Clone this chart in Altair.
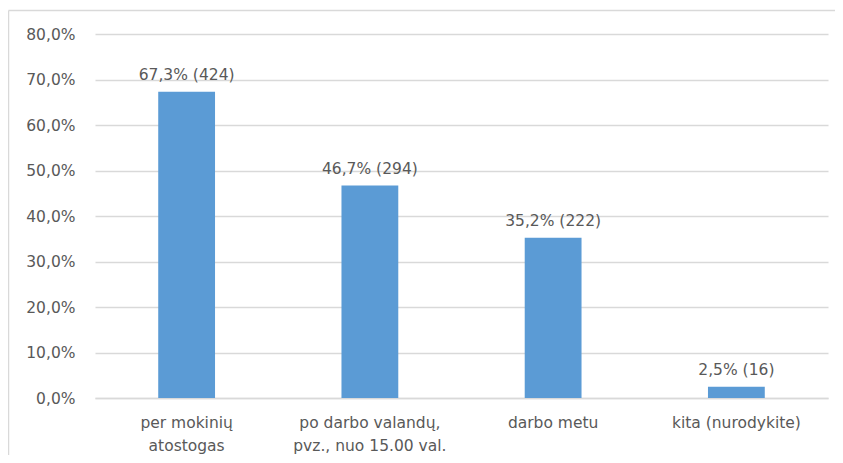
import altair as alt
import pandas as pd

categories = ["per mokinių\natostogas", "po darbo valandų,\npvz., nuo 15.00 val.", "darbo metu", "kita (nurodykite)"]
percents = [67.3, 46.7, 35.2, 2.5]
counts = [424, 294, 222, 16]
y_ticks = [0, 10, 20, 30, 40, 50, 60, 70, 80]

labels = [f"{p:.1f}".replace(".", ",") + f"% ({c})" for p, c in zip(percents, counts)]
df = pd.DataFrame({"cat": categories, "pct": percents, "label": labels})

FONT = "DejaVu Sans"
TXT = "#595959"
W, H = 733, 364

x = alt.X("cat:N", sort=None, title=None,
          scale=alt.Scale(paddingInner=0.69, paddingOuter=0.345),
          axis=alt.Axis(labelAngle=0, labelFont=FONT, labelFontSize=15.5, labelColor=TXT,
                        labelExpr="split(datum.label, '\\n')", labelLineHeight=23,
                        labelBaseline="top", labelPadding=17, labelLimit=300,
                        ticks=False, grid=False, domainColor="#d9d9d9", domainWidth=1.5))
y = alt.Y("pct:Q", title=None,
          scale=alt.Scale(domain=[0, 80], nice=False),
          axis=alt.Axis(values=y_ticks, labelFont=FONT, labelFontSize=15.5, labelColor=TXT,
                        labelExpr="replace(format(datum.value, '.1f'), '.', ',') + '%'",
                        labelPadding=20, ticks=False, domain=False,
                        gridColor="#d9d9d9", gridWidth=1.5))

base = alt.Chart(df)
bars = base.mark_bar(color="#5B9BD5").encode(x=x, y=y)
text = base.mark_text(font=FONT, fontSize=15.5, color=TXT, baseline="alphabetic", dy=-12).encode(
    x=alt.X("cat:N", sort=None), y="pct:Q", text="label:N")

one = alt.Data(values=[{}])
border_top = alt.Chart(one).mark_rule(stroke="#d9d9d9", strokeWidth=1.5, clip=False).encode(
    x=alt.value(-86.5), x2=alt.value(W + 7), y=alt.value(-23.5))
border_left = alt.Chart(one).mark_rule(stroke="#d9d9d9", strokeWidth=1.5, clip=False).encode(
    x=alt.value(-86.5), y=alt.value(-23.5), y2=alt.value(H + 57))

chart = alt.layer(border_top, border_left, bars, text).properties(
    width=W, height=H,
    background="white",
    autosize=alt.AutoSizeParams(type="none"),
    padding={"left": 87, "top": 26, "right": 7, "bottom": 57},
).configure_view(stroke=None)

chart.save("out.html", embed_options={"renderer": "svg", "actions": False})
